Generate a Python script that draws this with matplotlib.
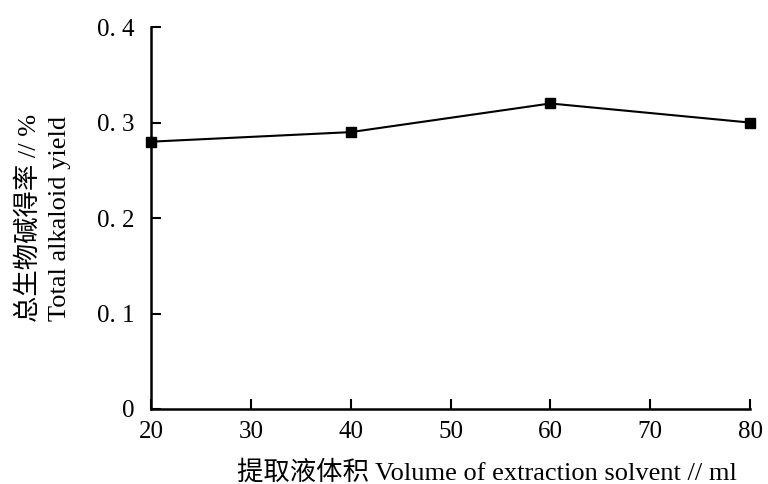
import matplotlib.pyplot as plt

plt.rcParams['font.family'] = ['Liberation Serif', 'Noto Sans CJK SC']

# 数据
volume = [20, 40, 60, 80]
yield_pct = [0.28, 0.29, 0.32, 0.30]
x_ticks = [20, 30, 40, 50, 60, 70, 80]
y_ticks = [0, 0.1, 0.2, 0.3, 0.4]
y_tick_labels = ['0', '0. 1', '0. 2', '0. 3', '0. 4']

fig = plt.figure(figsize=(7.68, 4.84), dpi=100)
ax = fig.add_axes([0.1966, 0.155, 0.78, 0.789])

ax.plot(volume, yield_pct, color='black', linewidth=1.5, marker='s',
        markersize=7, clip_on=False, zorder=3)

ax.set_xlim(20, 80)
ax.set_ylim(0, 0.4)
ax.set_xticks(x_ticks)
ax.set_yticks(y_ticks)
ax.set_yticklabels(y_tick_labels)

for s in ['top', 'right']:
    ax.spines[s].set_visible(False)
for s in ['left', 'bottom']:
    ax.spines[s].set_linewidth(1.8)

ax.tick_params(axis='both', direction='in', length=7, width=1.5, labelsize=18)
ax.tick_params(axis='x', pad=9)
ax.tick_params(axis='y', pad=12)

ax.set_ylabel('总生物碱得率 // %\nTotal alkaloid yield', fontsize=19,
              linespacing=1.5)
ax.yaxis.set_label_coords(-0.133, 0.5)
ax.set_xlabel('提取液体积 Volume of extraction solvent // ml', fontsize=19)
ax.xaxis.set_label_coords(0.561, -0.135)

fig.savefig('out.png', dpi=100)
